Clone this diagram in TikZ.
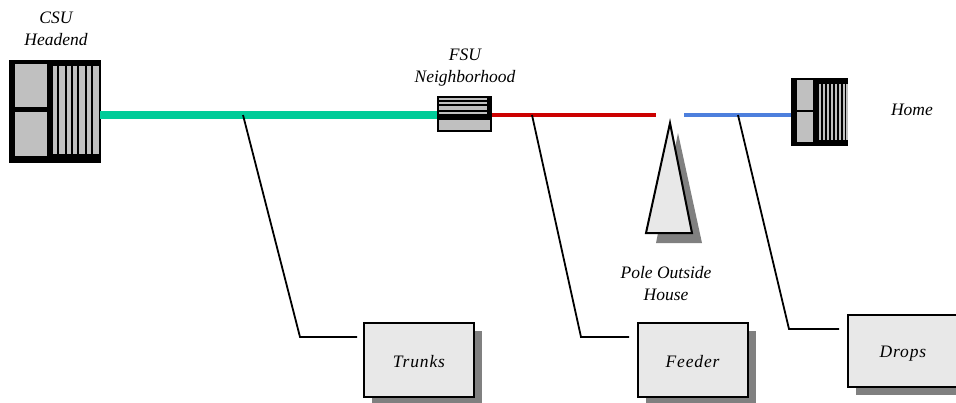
\documentclass[tikz,border=0pt]{standalone}
\usepackage{fontspec}
\setmainfont{Liberation Serif}
\usepackage{tikz}
\usetikzlibrary{positioning,shadows}

\definecolor{trunkgreen}{HTML}{00CC99}
\definecolor{feederred}{HTML}{CC0000}
\definecolor{dropblue}{HTML}{4D7FDD}
\definecolor{panelgray}{HTML}{C0C0C0}
\definecolor{boxgray}{HTML}{E8E8E8}
\definecolor{shadowgray}{HTML}{808080}

\tikzset{
	caption/.style={align=center, inner sep=0pt, font=\fontsize{17.5}{22}\selectfont\itshape},
	plant/.style={fill=boxgray, draw=black, line width=2pt, inner sep=0pt, minimum width=110pt, minimum height=74pt, font=\fontsize{17.5}{22}\selectfont\itshape\addfontfeature{LetterSpace=5}, drop shadow={shadow xshift=8pt, shadow yshift=-8pt, fill=shadowgray, opacity=1}},
	unit/.style={fill=black, inner sep=0pt},
	panel/.style={fill=panelgray},
	leader/.style={draw=black, line width=1.8pt}
}

\begin{document}
\begin{tikzpicture}[x=1pt, y=-1pt]
		\useasboundingbox (0, 0) rectangle (956, 402);
		\clip (0, 0) rectangle (956, 402);

		\node [caption] (csulabel) at (56, 29) {CSU\\Headend};
		\node [caption] (fsulabel) at (465, 68) {FSU\\Neighborhood};
		\node [caption] (homelabel) at (912, 110) {Home};
		\node [caption] (polelabel) at (666, 284) {Pole Outside\\House};

		\node [unit, minimum width=92pt, minimum height=103pt] (csu) at (55, 111.5) {};
		\node [unit, minimum width=55pt, minimum height=36pt] (fsu) at (464.5, 114) {};
		\node [unit, minimum width=57pt, minimum height=68pt] (home) at (819.5, 112) {};

		\fill [panel] (15, 64) rectangle (46.7, 107);
		\fill [panel] (15, 112) rectangle (46.7, 156);
		\foreach \l/\r in {53/57.3, 59/65, 66.7/71.3, 73/77.3, 79/85.3, 87/91.3, 93/99}
			\fill [panel] (\l, 66) rectangle (\r, 154);

		\foreach \t/\b in {97.7/100, 101.7/104.3, 105.7/110.3, 111.7/114}
			\fill [panel] (439, \t) rectangle (487, \b);
		\fill [panel] (439, 120) rectangle (490, 130);

		\fill [panel] (797, 80) rectangle (813, 110);
		\fill [panel] (797, 112) rectangle (813, 141.7);
		\foreach \l in {819, 823, 827, 831, 835, 839, 843}
			\fill [panel] (\l, 84) rectangle ++(2, 56);
		\fill [panel] (846.3, 84) rectangle (847.7, 140);

		\coordinate (csuport) at (100, 115);
		\coordinate (fsuin) at (437, 115);
		\coordinate (fsuout) at (491.5, 115);
		\coordinate (redend) at (656, 115);
		\coordinate (blueend) at (684, 115);
		\coordinate (homeport) at (791, 115);

		\draw [trunkgreen, line width=7.5pt] (csuport) -- (fsuin);
		\draw [feederred, line width=3.8pt] (fsuout) -- (redend);
		\draw [dropblue, line width=3.8pt] (blueend) -- (homeport);

		\fill [shadowgray] (678, 133) -- (702, 243) -- (656, 243) -- cycle;
		\draw [fill=boxgray, line width=2pt, line join=miter] (670, 123) -- (692, 233) -- (646, 233) -- cycle;

		\node [plant] (trunks) at (419, 360) {\raisebox{-7pt}[0pt][0pt]{Trunks}};
		\node [plant] (feeder) at (692.5, 360) {\raisebox{-7pt}[0pt][0pt]{Feeder}};
		\node [plant, minimum height=72pt] (drops) at (903, 351) {\raisebox{-6pt}[0pt][0pt]{Drops}};

		\coordinate (trunkstap) at (243, 115);
		\coordinate (trunksbend) at (300, 337);
		\coordinate (trunksend) at (357, 337);
		\coordinate (feedertap) at (532, 115);
		\coordinate (feederbend) at (581, 337);
		\coordinate (feederend) at (629, 337);
		\coordinate (dropstap) at (738, 115);
		\coordinate (dropsbend) at (789, 329);
		\coordinate (dropsend) at (839, 329);

		\draw [leader] (trunkstap) -- (trunksbend) -- (trunksend);
		\draw [leader] (feedertap) -- (feederbend) -- (feederend);
		\draw [leader] (dropstap) -- (dropsbend) -- (dropsend);
\end{tikzpicture}
\end{document}
